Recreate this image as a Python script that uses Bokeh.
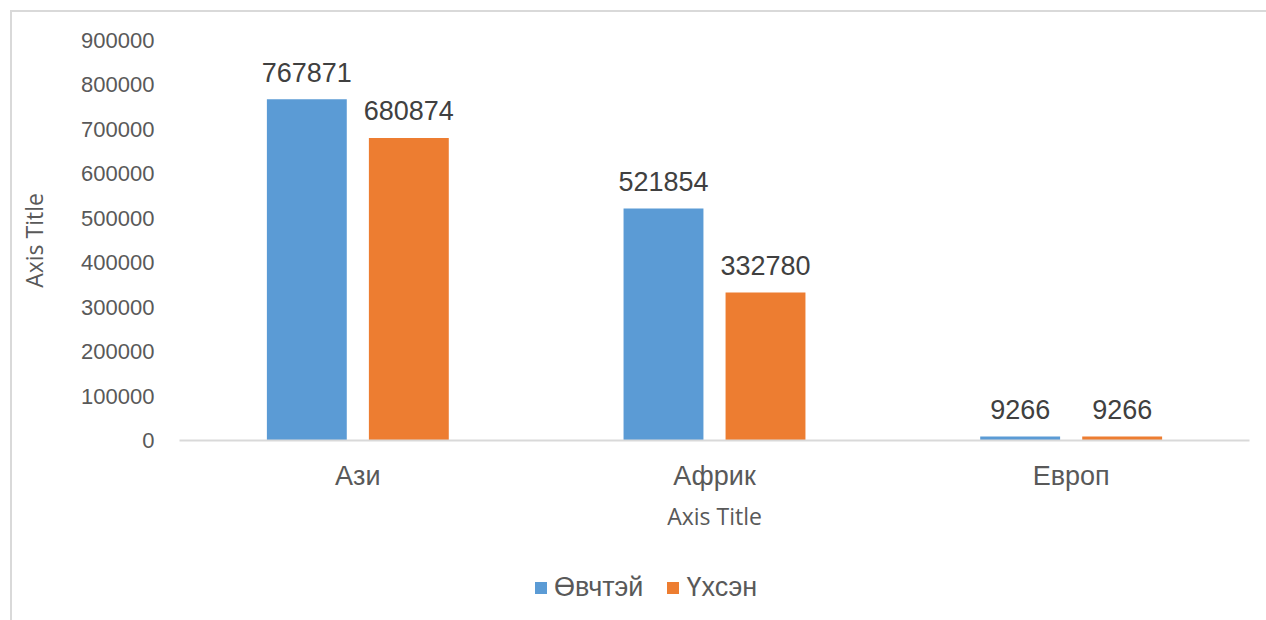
from bokeh.plotting import figure
from bokeh.layouts import column
from bokeh.models import (ColumnDataSource, FactorRange, Range1d, FixedTicker,
                          Legend, LegendItem, BasicTickFormatter)
from bokeh.transform import dodge
from bokeh.core.properties import value
from bokeh.embed import file_html
from bokeh.resources import INLINE

# Data
regions = ["Ази", "Африк", "Европ"]
ovchtei = [767871, 521854, 9266]   # Өвчтэй
ukhsen = [680874, 332780, 9266]    # Үхсэн
y_ticks = [0, 100000, 200000, 300000, 400000, 500000, 600000, 700000, 800000, 900000]
series_names = ["Өвчтэй", "Үхсэн"]

BLUE = "#5B9BD5"
ORANGE = "#ED7D31"
GRAY_TXT = "#595959"
LBL_TXT = "#404040"
SANS = "Liberation Sans"

src = ColumnDataSource(dict(
    region=regions,
    a=ovchtei,
    b=ukhsen,
    a_lbl=[str(v) for v in ovchtei],
    b_lbl=[str(v) for v in ukhsen],
))

p = figure(
    x_range=FactorRange(factors=regions, range_padding=0),
    y_range=Range1d(0, 900000),
    frame_width=1070, frame_height=400,
    min_border_left=167, min_border_right=17,
    min_border_top=28, min_border_bottom=110,
    output_backend="svg", toolbar_location=None,
)
p.outline_line_color = None
p.xgrid.visible = False
p.ygrid.visible = False

off = 0.143
bw = 0.224
p.vbar(x=dodge("region", -off, range=p.x_range), top="a", width=bw,
       source=src, fill_color=BLUE, line_color=None)
p.vbar(x=dodge("region", off, range=p.x_range), top="b", width=bw,
       source=src, fill_color=ORANGE, line_color=None)

# value labels above each bar
for col, lbl, d in (("a", "a_lbl", -off), ("b", "b_lbl", off)):
    p.text(x=dodge("region", d, range=p.x_range), y=col, text=lbl, source=src,
           text_align="center", text_baseline="alphabetic", y_offset=-27,
           text_font=value(SANS), text_font_size="27px", text_color=LBL_TXT)

# y axis
ya = p.yaxis[0]
ya.ticker = FixedTicker(ticks=y_ticks)
ya.formatter = BasicTickFormatter(use_scientific=False)
ya.axis_line_color = None
ya.major_tick_line_color = None
ya.minor_tick_line_color = None
ya.major_label_text_font = SANS
ya.major_label_text_font_size = "22px"
ya.major_label_text_color = GRAY_TXT
ya.major_label_standoff = 19
ya.axis_label = "Axis Title"
ya.axis_label_text_font = "Open Sans"
ya.axis_label_text_font_style = "normal"
ya.axis_label_text_font_size = "23px"
ya.axis_label_text_color = GRAY_TXT
ya.axis_label_standoff = 28

# x axis
xa = p.xaxis[0]
xa.axis_line_color = "#d9d9d9"
xa.axis_line_width = 2
xa.major_tick_line_color = None
xa.minor_tick_line_color = None
xa.major_label_text_font = SANS
xa.major_label_text_font_size = "27px"
xa.major_label_text_color = GRAY_TXT
xa.major_label_standoff = 14
xa.axis_label = "Axis Title"
xa.axis_label_text_font = "Open Sans"
xa.axis_label_text_font_style = "normal"
xa.axis_label_text_font_size = "23px"
xa.axis_label_text_color = GRAY_TXT
xa.axis_label_standoff = 6

# legend strip underneath the chart; the swatch renderers sit outside its ranges
leg = figure(
    x_range=Range1d(0, 1), y_range=Range1d(0, 1),
    frame_width=1254, frame_height=74,
    min_border_left=0, min_border_right=0, min_border_top=0, min_border_bottom=0,
    x_axis_type=None, y_axis_type=None,
    output_backend="svg", toolbar_location=None,
)
leg.outline_line_color = None
swatches = [leg.vbar(x=[-5], top=[-5], bottom=[-6], width=0.1,
                     fill_color=c, line_color=None)
            for c in (BLUE, ORANGE)]
legend = Legend(
    items=[LegendItem(label=n, renderers=[r]) for n, r in zip(series_names, swatches)],
    orientation="horizontal", location=(521, 21),
    label_text_font=SANS, label_text_font_size="27px", label_text_color=GRAY_TXT,
    glyph_width=15, glyph_height=15, label_standoff=6, spacing=22,
    border_line_color=None, background_fill_alpha=0, margin=0, padding=0,
)
leg.add_layout(legend)

layout = column(
    p, leg, spacing=0,
    margin=(10, 0, 0, 10),
    styles={"border-left": "2px solid #d9d9d9", "border-top": "2px solid #d9d9d9"},
)

open("out.html", "w").write(file_html(layout, INLINE))
